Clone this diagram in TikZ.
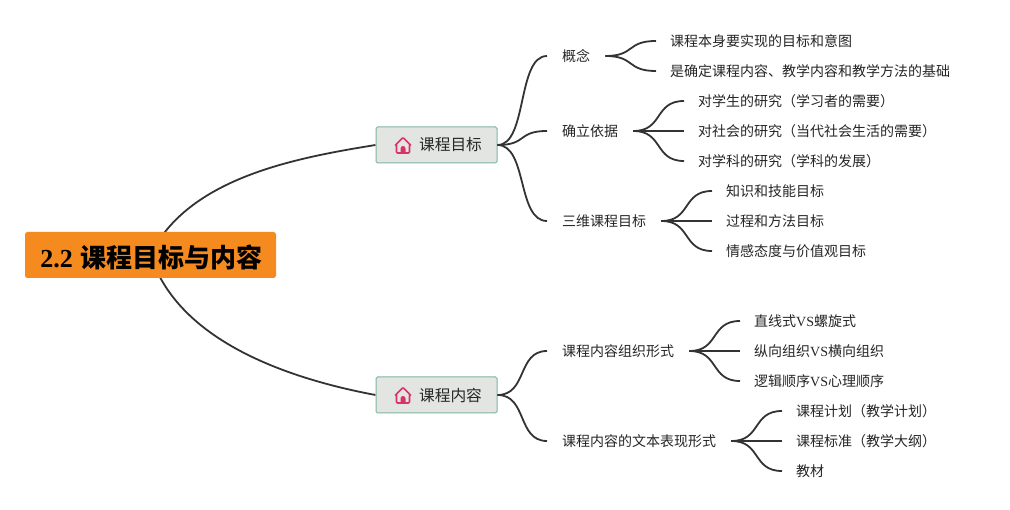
\documentclass[tikz,border=0pt]{standalone}
\usepackage{fontspec}
\setmainfont{Liberation Serif}
\newfontfamily\cjk{Noto Sans CJK SC}
\usetikzlibrary{backgrounds}
\definecolor{linkgray}{HTML}{333333}
\definecolor{rootorange}{HTML}{F58A1F}
\definecolor{topicgray}{HTML}{E3E5E3}
\definecolor{topicedge}{HTML}{7FB5A0}
\definecolor{homered}{HTML}{D9346A}
\tikzset{
  link/.style={draw=linkgray, line width=1.8pt},
  sbend/.style={link, to path={.. controls +(30,0) and +(-30,0) .. (\tikztotarget)}},
  rootbox/.style={fill=rootorange, rounded corners=2.5pt, minimum width=251pt, minimum height=46pt,
    inner sep=0pt, font=\fontsize{26}{30}\selectfont\bfseries\cjk},
  topicbox/.style={fill=topicgray, draw=topicedge, line width=1pt, rounded corners=1.5pt, minimum width=121pt,
    minimum height=36pt, inner sep=0pt, text=black!85, font=\fontsize{15.7}{18}\selectfont\cjk},
  branchbox/.style={anchor=west, inner xsep=15pt, inner ysep=2pt, text=black!85, font=\fontsize{14}{16}\selectfont\cjk},
  leafbox/.style={anchor=west, inner xsep=14pt, inner ysep=2pt, text=black!85, font=\fontsize{14}{16}\selectfont\cjk},
  homeicon/.pic={
    \draw[homered, line width=1.7pt, line join=round, rounded corners=1pt]
      (-7.5,-.5) -- (0,-8) -- (7.5,-.5) -- (6.5,-.5) -- (6.5,7.5) -- (-6.5,7.5) -- (-6.5,-.5) -- cycle;
    \fill[homered] (-2.5,7.5) -- (-2.5,3) arc[start angle=180, end angle=360, radius=2.5] -- (2.5,7.5) -- cycle;
  }
}
\begin{document}
\begin{tikzpicture}[x=1pt,y=-1pt]
\useasboundingbox (0,0) rectangle (1010,510);
% Root
\node[rootbox] (root) at (150.5,255) {\raisebox{-12.5pt}[0pt][0pt]{\hspace*{2pt}\textrm{\textbf{2.2}}\hspace{8pt}课程目标与内容}};
% Main topics
\node[topicbox] (goal) at (436.5,145) {\hspace*{28pt}课程目标};
\node[topicbox] (content) at (436.5,395) {\hspace*{28pt}课程内容};
\pic at (403,145.5) {homeicon};
\pic at (403,395.5) {homeicon};
% Branches
\node[branchbox] (idea) at (547,56) {概念};
\node[branchbox] (basis) at (547,131) {确立依据};
\node[branchbox] (aims) at (547,221) {三维课程目标};
\node[branchbox] (form) at (547,351) {课程内容组织形式};
\node[branchbox] (text) at (547,441) {课程内容的文本表现形式};
% Leaves
\node[leafbox] (idea1) at (656,41) {课程本身要实现的目标和意图};
\node[leafbox] (idea2) at (656,71) {是确定课程内容、教学内容和教学方法的基础};
\node[leafbox] (basis1) at (684,101) {对学生的研究（学习者的需要）};
\node[leafbox] (basis2) at (684,131) {对社会的研究（当代社会生活的需要）};
\node[leafbox] (basis3) at (684,161) {对学科的研究（学科的发展）};
\node[leafbox] (aims1) at (712,191) {知识和技能目标};
\node[leafbox] (aims2) at (712,221) {过程和方法目标};
\node[leafbox] (aims3) at (712,251) {情感态度与价值观目标};
\node[leafbox] (form1) at (740,321) {直线式\textrm{VS}螺旋式};
\node[leafbox] (form2) at (740,351) {纵向组织\textrm{VS}横向组织};
\node[leafbox] (form3) at (740,381) {逻辑顺序\textrm{VS}心理顺序};
\node[leafbox] (text1) at (782,411) {课程计划（教学计划）};
\node[leafbox] (text2) at (782,441) {课程标准（教学大纲）};
\node[leafbox] (text3) at (782,471) {教材};
% Links from the root, behind its box
\begin{scope}[on background layer]
\fill[white] (0,0) rectangle (1010,510);
\draw[link] (root.center) .. controls (188,178) and (295,158) .. (goal.west);
\draw[link] (root.center) .. controls (178,340) and (285,378) .. (content.west);
\end{scope}
% Links to the branches
\draw[sbend] (goal.east) to (idea.west);
\draw[sbend] (goal.east) to (basis.west);
\draw[sbend] (goal.east) to (aims.west);
\draw[sbend] (content.east) to (form.west);
\draw[sbend] (content.east) to (text.west);
% Links to the leaves
\draw[sbend] (idea.east) to (idea1.west);
\draw[sbend] (idea.east) to (idea2.west);
\draw[sbend] (basis.east) to (basis1.west);
\draw[sbend] (basis.east) to (basis2.west);
\draw[sbend] (basis.east) to (basis3.west);
\draw[sbend] (aims.east) to (aims1.west);
\draw[sbend] (aims.east) to (aims2.west);
\draw[sbend] (aims.east) to (aims3.west);
\draw[sbend] (form.east) to (form1.west);
\draw[sbend] (form.east) to (form2.west);
\draw[sbend] (form.east) to (form3.west);
\draw[sbend] (text.east) to (text1.west);
\draw[sbend] (text.east) to (text2.west);
\draw[sbend] (text.east) to (text3.west);
\end{tikzpicture}
\end{document}
